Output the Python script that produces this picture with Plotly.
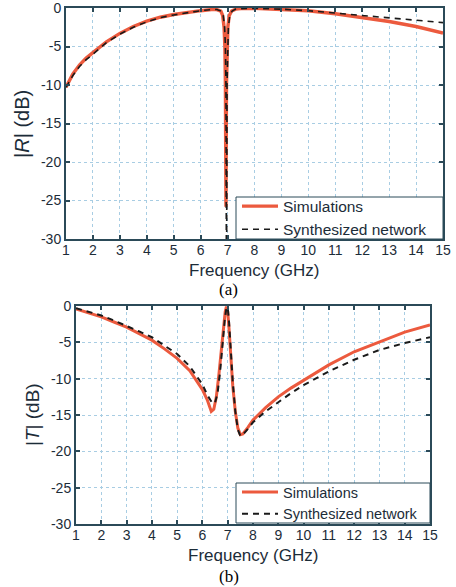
import plotly.graph_objects as go

# ---- data: |R| (top panel) ----
r_sim_f = [1.0, 1.25, 1.5, 1.75, 2.0, 2.5, 3.0, 3.5, 4.0, 4.5, 5.0, 5.5, 6.0, 6.4, 6.6, 6.75,
           6.82, 6.87, 6.9, 6.92, 6.94, 6.96, 6.98, 7.01, 7.06, 7.15, 7.3, 7.5, 8.0, 9.0,
           10.0, 11.0, 12.0, 13.0, 14.0, 15.0]
r_sim_db = [-10.3, -8.6, -7.4, -6.5, -5.8, -4.4, -3.3, -2.4, -1.7, -1.2, -0.85, -0.55, -0.35, -0.2, -0.2, -0.4,
            -1.0, -2.5, -5.0, -10.0, -25.8, -10.0, -5.0, -2.5, -1.0, -0.4, -0.15, -0.08, -0.05, -0.2,
            -0.35, -0.75, -1.2, -1.75, -2.4, -3.25]
r_syn_f = [1.0, 1.25, 1.5, 1.75, 2.0, 2.5, 3.0, 3.5, 4.0, 4.5, 5.0, 5.5, 6.0, 6.4, 6.6, 6.77,
           6.84, 6.89, 6.92, 6.94, 6.96, 6.98, 7.0, 7.03, 7.08, 7.17, 7.3, 7.5, 8.0, 9.0,
           10.0, 11.0, 12.0, 13.0, 14.0, 15.0]
r_syn_db = [-10.3, -8.8, -7.6, -6.7, -6.0, -4.5, -3.4, -2.5, -1.8, -1.25, -0.9, -0.6, -0.35, -0.2, -0.2, -0.4,
            -1.0, -2.5, -5.0, -10.0, -40.0, -10.0, -5.0, -2.5, -1.0, -0.4, -0.15, -0.08, -0.05, -0.15,
            -0.35, -0.65, -1.0, -1.3, -1.6, -1.9]

# ---- data: |T| (bottom panel) ----
t_sim_f = [1.0, 1.5, 2.0, 2.5, 3.0, 3.5, 4.0, 4.5, 5.0, 5.5, 6.0, 6.2, 6.35, 6.45, 6.55, 6.65,
           6.75, 6.83, 6.9, 6.95, 7.0, 7.05, 7.12, 7.2, 7.3, 7.4, 7.5, 7.6, 7.8, 8.0,
           8.5, 9.0, 9.5, 10.0, 11.0, 12.0, 13.0, 14.0, 15.0]
t_sim_db = [-0.4, -0.9, -1.5, -2.2, -2.9, -3.8, -4.7, -5.9, -7.2, -8.9, -11.5, -13.0, -14.5, -14.2, -12.5, -9.5,
            -6.0, -3.0, -0.8, -0.1, -0.8, -3.0, -7.0, -11.0, -14.5, -16.8, -17.7, -17.6, -16.7, -15.7,
            -14.0, -12.5, -11.3, -10.2, -8.1, -6.3, -4.9, -3.6, -2.6]
t_syn_f = [1.0, 1.5, 2.0, 2.5, 3.0, 3.5, 4.0, 4.5, 5.0, 5.5, 6.0, 6.2, 6.4, 6.5, 6.6, 6.7,
           6.8, 6.88, 6.95, 7.0, 7.05, 7.12, 7.2, 7.3, 7.4, 7.5, 7.6, 7.8, 8.0,
           8.5, 9.0, 9.5, 10.0, 11.0, 12.0, 13.0, 14.0, 15.0]
t_syn_db = [-0.3, -0.75, -1.3, -2.0, -2.7, -3.5, -4.3, -5.4, -6.6, -8.3, -10.8, -12.3, -13.4, -13.3, -12.0, -9.0,
            -5.0, -2.0, -0.2, -0.2, -2.0, -6.5, -10.5, -14.5, -17.0, -17.9, -17.7, -16.9, -16.0,
            -14.5, -13.2, -12.0, -10.9, -9.0, -7.4, -6.05, -5.1, -4.3]

x_ticks = list(range(1, 16))
y_ticks = [0, -5, -10, -15, -20, -25, -30]
y_tick_text = [str(v) for v in y_ticks]
series_names = ["Simulations", "Synthesized network"]

W, H = 456, 587
RED = "#ec5a3e"
AXC = "#2b4a58"
GRID = "#a8cde3"
TXT = "#1c2c38"
FONT = "Liberation Sans, Arial, sans-serif"

def px(x):
    return x / W

def py(y):
    return 1 - y / H

fig = go.Figure()

fig.add_trace(go.Scatter(x=r_sim_f, y=r_sim_db, mode="lines", name=series_names[0],
                         line=dict(color=RED, width=3.4), xaxis="x", yaxis="y", legend="legend"))
fig.add_trace(go.Scatter(x=r_syn_f, y=r_syn_db, mode="lines", name=series_names[1],
                         line=dict(color="#1a1a1a", width=1.6, dash="6px,5px"), xaxis="x", yaxis="y",
                         legend="legend"))
fig.add_trace(go.Scatter(x=t_sim_f, y=t_sim_db, mode="lines", name=series_names[0],
                         line=dict(color=RED, width=3.0), xaxis="x2", yaxis="y2", legend="legend2"))
fig.add_trace(go.Scatter(x=t_syn_f, y=t_syn_db, mode="lines", name=series_names[1],
                         line=dict(color="#1a1a1a", width=2.0, dash="6px,5px"), xaxis="x2", yaxis="y2",
                         legend="legend2"))

axis_common = dict(
    showline=True, linecolor=AXC, linewidth=2, mirror="ticks",
    ticks="inside", ticklen=4, tickcolor=AXC, tickwidth=1.5,
    showgrid=True, gridcolor=GRID, griddash="dot", gridwidth=1.2,
    zeroline=False, automargin=False, ticklabeloverflow="allow",
    tickfont=dict(family=FONT, size=14, color=TXT),
)

top_x = [px(66), px(443)]
top_y = [py(239), py(8)]
bot_x = [px(76), px(430)]
bot_y = [py(524), py(306)]

# legend frames (pixel boxes in the reference)
top_box = (236, 443, 197, 239)
bot_box = (236, 430, 483, 523)

fig.update_layout(
    width=W, height=H,
    margin=dict(l=0, r=0, t=0, b=0),
    paper_bgcolor="white", plot_bgcolor="white",
    font=dict(family=FONT, color=TXT),
    xaxis=dict(domain=top_x, range=[1, 15], tickvals=x_ticks, anchor="y", ticklabelstandoff=-3, **axis_common),
    yaxis=dict(domain=top_y, range=[-30, 0], tickvals=y_ticks, ticktext=y_tick_text, anchor="x", **axis_common),
    xaxis2=dict(domain=bot_x, range=[1, 15], tickvals=x_ticks, anchor="y2", ticklabelstandoff=-3, **axis_common),
    yaxis2=dict(domain=bot_y, range=[-30, 0], tickvals=y_ticks, ticktext=y_tick_text, anchor="x2", **axis_common),
    legend=dict(x=px(top_box[0] + 1), y=py((top_box[2] + top_box[3]) / 2), xanchor="left", yanchor="middle",
                bgcolor="rgba(0,0,0,0)", borderwidth=0,
                font=dict(family=FONT, size=15.5, color=TXT),
                tracegroupgap=0, itemwidth=36),
    legend2=dict(x=px(bot_box[0] + 1), y=py((bot_box[2] + bot_box[3]) / 2), xanchor="left", yanchor="middle",
                 bgcolor="rgba(0,0,0,0)", borderwidth=0,
                 font=dict(family=FONT, size=14.5, color=TXT),
                 tracegroupgap=0, itemwidth=36),
    showlegend=True,
)

for (x0, x1, y0, y1) in [top_box, bot_box]:
    fig.add_shape(type="rect", xref="paper", yref="paper",
                  x0=px(x0), x1=px(x1), y0=py(y1), y1=py(y0),
                  fillcolor="white", line=dict(color=AXC, width=1), layer="above")

for xx, yy in [(254, 270), (253, 555)]:
    fig.add_annotation(text="Frequency (GHz)", x=px(xx), y=py(yy), xref="paper", yref="paper",
                       showarrow=False, xanchor="center", yanchor="middle",
                       font=dict(family=FONT, size=17, color=TXT))

fig.add_annotation(text="|<i>R</i>| (dB)", x=px(22), y=py(124), xref="paper", yref="paper",
                   showarrow=False, textangle=-90, xanchor="center", yanchor="middle",
                   font=dict(family=FONT, size=20, color=TXT))
fig.add_annotation(text="|<i>T</i>| (dB)", x=px(32), y=py(415), xref="paper", yref="paper",
                   showarrow=False, textangle=-90, xanchor="center", yanchor="middle",
                   font=dict(family=FONT, size=19, color=TXT))

for lbl, yy in [("(a)", 290), ("(b)", 576)]:
    fig.add_annotation(text=lbl, x=px(229), y=py(yy), xref="paper", yref="paper",
                       showarrow=False, xanchor="center", yanchor="middle",
                       font=dict(family="Liberation Serif, Times New Roman, serif", size=17, color="black"))

fig.write_html("out.html", config={"displayModeBar": False},
               post_script="document.body.style.margin='0px';document.body.style.overflow='hidden';")
